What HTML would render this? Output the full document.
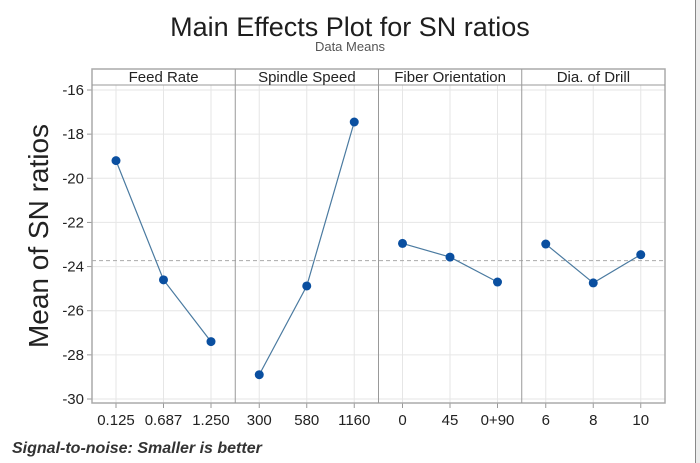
<!DOCTYPE html>
<html><head><meta charset="utf-8"><style>
html,body{margin:0;padding:0;background:#fff;}
body{width:700px;height:463px;overflow:hidden;position:relative;font-family:"Liberation Sans",sans-serif;}
#edge{position:absolute;left:695px;top:0;width:5px;height:463px;background:#ececec;border-left:1px solid #888;}
</style></head><body>
<div id="edge"></div>
<svg id="chart" width="700" height="463" style="position:absolute;left:0;top:0"></svg>
<script>
const factors = ["Feed Rate","Spindle Speed","Fiber Orientation","Dia. of Drill"];
const levelLabels = [["0.125","0.687","1.250"],["300","580","1160"],["0","45","0+90"],["6","8","10"]];
const feedRateMeans = [-19.2,-24.6,-27.4];
const spindleSpeedMeans = [-28.9,-24.88,-17.45];
const fiberOrientationMeans = [-22.95,-23.57,-24.7];
const drillDiaMeans = [-22.98,-24.74,-23.46];
const grandMean = -23.73;
const yTicks = [-16,-18,-20,-22,-24,-26,-28,-30];
const series = [feedRateMeans,spindleSpeedMeans,fiberOrientationMeans,drillDiaMeans];

const NS="http://www.w3.org/2000/svg";
const svg=document.getElementById('chart');
const L=92,R=665,T=69,HB=85,B=403;
const pw=(R-L)/4;
const y=v=>90+(-16-v)*(399-90)/14;
const x=(p,i)=>L+p*pw+24+i*47.5;
function mk(t,a,parent){const e=document.createElementNS(NS,t);for(const k in a)e.setAttribute(k,a[k]);(parent||svg).appendChild(e);return e;}

let e;
e=mk('text',{x:350,y:36,'text-anchor':'middle','font-size':27,fill:'#1e1e1e'});e.textContent='Main Effects Plot for SN ratios';


e=mk('text',{x:350,y:51,'text-anchor':'middle','font-size':13,fill:'#555'});e.textContent='Data Means';


e=mk('text',{x:48,y:236,'text-anchor':'middle','font-size':28,fill:'#222',transform:'rotate(-90 48 236)'});e.textContent='Mean of SN ratios';


e=mk('text',{x:12,y:453,'font-size':16,'font-weight':'bold','font-style':'italic',fill:'#333'});e.textContent='Signal-to-noise: Smaller is better';



yTicks.forEach(t=>{
  e=mk('line',{x1:L,x2:R,y1:y(t),y2:y(t),stroke:'#e6e6e6','stroke-width':1});
  
  
  mk('line',{x1:L-5,x2:L,y1:y(t),y2:y(t),stroke:'#999'});
  e=mk('text',{x:L-8,y:y(t)+5,'text-anchor':'end','font-size':15,fill:'#222'});e.textContent=t;
  
  
});
factors.forEach((f,p)=>{
  for(let i=0;i<3;i++){
    e=mk('line',{x1:x(p,i),x2:x(p,i),y1:HB,y2:B,stroke:'#e6e6e6'});
    
    
    mk('line',{x1:x(p,i),x2:x(p,i),y1:B,y2:B+5,stroke:'#999'});
    e=mk('text',{x:x(p,i),y:B+22,'text-anchor':'middle','font-size':15,fill:'#222'});e.textContent=levelLabels[p][i];
    
    
  }
});
e=mk('line',{x1:L,x2:R,y1:y(grandMean),y2:y(grandMean),stroke:'#aaa','stroke-dasharray':'4,3'});


mk('rect',{x:L,y:T,width:R-L,height:B-T,fill:'none',stroke:'#aaa','stroke-width':1.5});
mk('line',{x1:L,x2:R,y1:HB,y2:HB,stroke:'#999'});
for(let p=1;p<4;p++)mk('line',{x1:L+p*pw,x2:L+p*pw,y1:T,y2:B,stroke:'#999'});
factors.forEach((f,p)=>{
  e=mk('text',{x:L+p*pw+pw/2,y:82,'text-anchor':'middle','font-size':15,fill:'#222'});e.textContent=f;
  
  
  const vals=series[p];
  e=mk('polyline',{points:vals.map((v,i)=>x(p,i)+','+y(v)).join(' '),fill:'none',stroke:'#4a7aa0','stroke-width':1.2});
  
  
  vals.forEach((v,i)=>{
    e=mk('circle',{cx:x(p,i),cy:y(v),r:4.5,fill:'#0a4fa0'});
    
    
  });
});
</script>
</body></html>
